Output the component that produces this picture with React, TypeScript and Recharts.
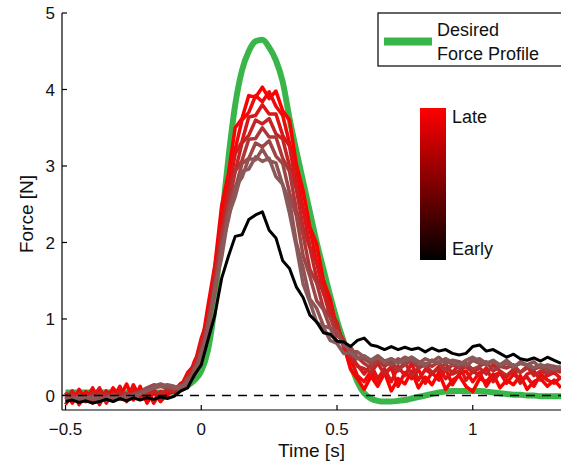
import React from 'react';
import { LineChart, Line, XAxis, YAxis, ReferenceLine, Legend, Label } from 'recharts';

const time = [
  -0.5, -0.475, -0.45, -0.425, -0.4, -0.375, -0.35, -0.325, -0.3, -0.275,
  -0.25, -0.225, -0.2, -0.175, -0.15, -0.125, -0.1, -0.075, -0.05, -0.025,
  0, 0.025, 0.05, 0.075, 0.1, 0.125, 0.15, 0.175, 0.2, 0.225,
  0.25, 0.275, 0.3, 0.325, 0.35, 0.375, 0.4, 0.425, 0.45, 0.475,
  0.5, 0.525, 0.55, 0.575, 0.6, 0.625, 0.65, 0.675, 0.7, 0.725,
  0.75, 0.775, 0.8, 0.825, 0.85, 0.875, 0.9, 0.925, 0.95, 0.975,
  1, 1.025, 1.05, 1.075, 1.1, 1.125, 1.15, 1.175, 1.2, 1.225,
  1.25, 1.275, 1.3, 1.325,
];

const desired = [
  0.04, 0.04, 0.04, 0.04, 0.04, 0.04, 0.04, 0.04, 0.04, 0.04, 0.04, 0.04, 0.04, 0.04, 0.04, 0.04,
  0.05, 0.08, 0.13, 0.2, 0.32, 0.6, 1.2, 2.25, 3.1, 3.8,
  4.25, 4.5, 4.63, 4.65, 4.55, 4.38, 4.1, 3.62, 3.2, 2.8,
  2.4, 2.0, 1.65, 1.3, 0.98, 0.7, 0.42, 0.18, 0.03, -0.04,
  -0.07, -0.08, -0.08, -0.07, -0.06, -0.04, -0.02, 0.0, 0.02, 0.04,
  0.05, 0.06, 0.06, 0.06, 0.06, 0.06, 0.05, 0.04, 0.03, 0.02,
  0.01, 0.01, 0.0, 0.0, -0.01, -0.01, -0.01, -0.01,
];

const early = [
  -0.08, -0.06, -0.09, -0.07, -0.1, -0.08, -0.05, -0.08, -0.04, -0.07,
  -0.03, -0.06, -0.03, -0.05, -0.02, -0.04, -0.01,
  0.06, 0.1, 0.27, 0.4, 0.73, 1.05, 1.53, 1.82, 2.08, 2.1, 2.3,
  2.36, 2.4, 2.16, 2.06,
  1.76, 1.66, 1.42, 1.28, 1.05, 0.96, 0.82, 0.8, 0.71, 0.7, 0.64, 0.72,
  0.75, 0.66, 0.64, 0.6, 0.64, 0.6, 0.63, 0.6, 0.62, 0.57,
  0.62, 0.58, 0.6, 0.55, 0.53, 0.55, 0.64, 0.66, 0.58, 0.6,
  0.55, 0.5, 0.54, 0.48, 0.46, 0.49, 0.45, 0.5, 0.46, 0.42,
];

const trial1 = [
  -0.12, 0.02, -0.08, 0.05, -0.1, 0.08, -0.05, 0.1, -0.02, 0.15, -0.06, 0.12, -0.1, 0.04, -0.08, 0.02, 0.06,
  0.16, 0.2, 0.45, 0.62, 1.18, 1.7, 2.48, 2.9, 3.5, 3.62, 3.92,
  3.9, 4.03, 3.88, 3.98,
  3.72, 3.6, 3.02, 2.68, 2.2, 1.98, 1.5, 1.26, 0.86, 0.66, 0.34, 0.22,
  0.08, 0.25, 0.12, 0.3, 0.06, 0.22, 0.15, 0.32, 0.1, 0.24,
  0.14, 0.3, 0.08, 0.2, 0.26, 0.12, 0.05, 0.22, 0.18, 0.28,
  0.1, 0.2, 0.14, 0.26, 0.08, 0.18, 0.22, 0.12, 0.2, 0.1,
];

const trial2 = [
  0.04, -0.1, 0.08, -0.06, 0.1, -0.12, 0.06, -0.04, 0.12, -0.08, 0.14, -0.03, 0.08, -0.1, 0.05, 0.0, 0.1,
  0.12, 0.3, 0.4, 0.75, 1.0, 1.68, 2.25, 2.86, 3.22, 3.6, 3.7,
  3.92, 3.84, 3.97, 3.78,
  3.66, 3.3, 2.98, 2.44, 2.18, 1.74, 1.5, 1.1, 0.95, 0.62, 0.48, 0.26,
  0.18, 0.32, 0.15, 0.28, 0.36, 0.12, 0.3, 0.22, 0.34, 0.16,
  0.3, 0.2, 0.35, 0.14, 0.28, 0.32, 0.18, 0.3, 0.12, 0.26,
  0.3, 0.16, 0.28, 0.2, 0.24, 0.12, 0.28, 0.2, 0.16, 0.24,
];

const trial3 = [
  -0.05, 0.06, -0.12, 0.02, -0.04, 0.1, -0.1, 0.04, 0.0, -0.06, 0.08, 0.02, -0.04, 0.08, -0.02, 0.06, 0.04,
  0.13, 0.17, 0.4, 0.56, 1.05, 1.5, 2.25, 2.64, 3.16, 3.32, 3.64,
  3.66, 3.8, 3.68, 3.68,
  3.4, 3.26, 2.74, 2.44, 1.95, 1.74, 1.33, 1.18, 0.86, 0.72, 0.46, 0.4,
  0.28, 0.4, 0.22, 0.35, 0.18, 0.38, 0.26, 0.42, 0.2, 0.34,
  0.28, 0.38, 0.22, 0.3, 0.4, 0.2, 0.32, 0.26, 0.36, 0.18,
  0.3, 0.24, 0.34, 0.16, 0.28, 0.32, 0.2, 0.26, 0.3, 0.22,
];

const trial4 = [
  0.02, -0.06, 0.0, -0.08, 0.04, -0.02, 0.03, -0.07, 0.05, 0.0, -0.04, 0.06, 0.0, 0.05, 0.02, 0.08, 0.06,
  0.09, 0.25, 0.35, 0.67, 0.96, 1.57, 2.08, 2.66, 2.93, 3.3, 3.4,
  3.6, 3.55, 3.62, 3.42,
  3.35, 3.0, 2.7, 2.2, 1.93, 1.53, 1.35, 1.03, 0.92, 0.66, 0.58, 0.38,
  0.35, 0.3, 0.42, 0.28, 0.38, 0.32, 0.44, 0.26, 0.36, 0.4,
  0.3, 0.34, 0.42, 0.28, 0.32, 0.38, 0.3, 0.36, 0.28, 0.4,
  0.32, 0.26, 0.34, 0.3, 0.38, 0.26, 0.32, 0.28, 0.34, 0.3,
];

const trial5 = [
  -0.04, 0.0, -0.06, -0.02, -0.05, 0.02, -0.04, 0.0, -0.03, 0.03, -0.02, 0.04, 0.06, 0.1, 0.12, 0.1, 0.08,
  0.13, 0.15, 0.38, 0.54, 0.99, 1.4, 2.1, 2.47, 2.93, 3.07, 3.35,
  3.36, 3.5, 3.38, 3.38,
  3.1, 2.93, 2.43, 2.1, 1.65, 1.47, 1.14, 1.02, 0.78, 0.72, 0.52, 0.5,
  0.42, 0.36, 0.46, 0.38, 0.44, 0.34, 0.4, 0.46, 0.36, 0.42,
  0.38, 0.44, 0.32, 0.4, 0.36, 0.42, 0.34, 0.38, 0.44, 0.32,
  0.38, 0.36, 0.4, 0.3, 0.36, 0.34, 0.38, 0.3, 0.34, 0.32,
];

const trial6 = [
  -0.02, -0.05, 0.0, -0.04, -0.01, -0.06, -0.02, 0.01, -0.03, 0.0, 0.02, 0.05, 0.1, 0.14, 0.12, 0.1, 0.1,
  0.09, 0.23, 0.29, 0.59, 0.86, 1.45, 1.9, 2.47, 2.7, 3.03, 3.1,
  3.3, 3.25, 3.33, 3.13,
  3.03, 2.65, 2.35, 1.83, 1.56, 1.24, 1.12, 0.88, 0.84, 0.64, 0.63, 0.5,
  0.48, 0.42, 0.5, 0.44, 0.4, 0.48, 0.42, 0.5, 0.44, 0.38,
  0.46, 0.42, 0.48, 0.4, 0.44, 0.38, 0.46, 0.42, 0.4, 0.45,
  0.38, 0.42, 0.36, 0.44, 0.4, 0.36, 0.4, 0.34, 0.38, 0.35,
];

const trial7 = [
  -0.06, -0.03, -0.07, -0.02, -0.05, -0.03, -0.06, -0.01, -0.04, -0.02, 0.0, 0.03, 0.08, 0.12, 0.15, 0.12, 0.09,
  0.13, 0.13, 0.34, 0.48, 0.92, 1.33, 1.95, 2.3, 2.73, 2.85, 3.1,
  3.08, 3.22, 3.07, 3.04,
  2.75, 2.55, 2.0, 1.67, 1.26, 1.14, 0.91, 0.88, 0.7, 0.69, 0.57, 0.57,
  0.5, 0.46, 0.52, 0.45, 0.48, 0.44, 0.5, 0.46, 0.42, 0.48,
  0.44, 0.5, 0.42, 0.46, 0.44, 0.4, 0.46, 0.48, 0.42, 0.44,
  0.4, 0.46, 0.38, 0.42, 0.4, 0.44, 0.36, 0.4, 0.38, 0.36,
];

const trial8 = [
  -0.03, -0.06, -0.02, -0.05, -0.03, -0.07, -0.04, -0.02, -0.05, -0.01, -0.03, 0.02, 0.06, 0.1, 0.12, 0.14, 0.12,
  0.07, 0.18, 0.25, 0.54, 0.81, 1.4, 1.8, 2.35, 2.6, 2.93, 2.96,
  3.12, 3.06, 3.1, 2.86,
  2.76, 2.38, 1.95, 1.46, 1.22, 0.96, 0.89, 0.72, 0.68, 0.55, 0.56, 0.48,
  0.52, 0.46, 0.5, 0.44, 0.48, 0.42, 0.46, 0.5, 0.44, 0.4,
  0.46, 0.42, 0.48, 0.44, 0.4, 0.46, 0.5, 0.44, 0.42, 0.46,
  0.4, 0.44, 0.38, 0.42, 0.4, 0.36, 0.4, 0.38, 0.34, 0.38,
];

// late (red) -> early (brownish)
const trialSeries = [
  { key: 't1', values: trial1, color: '#FF0000' },
  { key: 't2', values: trial2, color: '#EE0A0A' },
  { key: 't3', values: trial3, color: '#DA1616' },
  { key: 't4', values: trial4, color: '#C42424' },
  { key: 't5', values: trial5, color: '#AE3636' },
  { key: 't6', values: trial6, color: '#9C4646' },
  { key: 't7', values: trial7, color: '#905252' },
  { key: 't8', values: trial8, color: '#8A5A5A' },
];

const xTicks = [-0.5, 0, 0.5, 1];
const yTicks = [0, 1, 2, 3, 4, 5];
const xDomain = [-0.513, 1.325];
const yDomain = [-0.19, 5];

const data = time.map((t, i) => {
  const row: Record<string, number> = { t, desired: desired[i], early: early[i] };
  trialSeries.forEach((s) => {
    row[s.key] = s.values[i];
  });
  return row;
});

const FONT = '"Liberation Sans", Arial, Helvetica, sans-serif';
const axisStroke = { stroke: '#000', strokeWidth: 1.2 };
const fmt = (v: number) => (v < 0 ? '\u2212' + String(Math.abs(v)) : String(v));
const tickStyle = { fontSize: 17, fill: '#111', fontFamily: FONT };
const emptyTick = () => <g />;

const Overlay = () => (
  <svg width={561} height={464} style={{ position: 'absolute', left: 0, top: 0, pointerEvents: 'none' }}>
    <defs>
      <linearGradient id="cbar" x1="0" y1="0" x2="0" y2="1">
        <stop offset="0" stopColor="#FF0000" />
        <stop offset="1" stopColor="#000000" />
      </linearGradient>
    </defs>
    <rect x={378} y={13} width={200} height={53} fill="#fff" stroke="#000" strokeWidth={1.2} />
    <line x1={384} x2={432} y1={41.5} y2={41.5} stroke="#39B54A" strokeWidth={8} />
    <text x={437} y={36} fontSize={18} fontFamily={FONT} fill="#111">Desired</text>
    <text x={437} y={59.5} fontSize={18} fontFamily={FONT} fill="#111">Force Profile</text>
    <rect x={420} y={108} width={26} height={152} fill="url(#cbar)" />
    <text x={452} y={123} fontSize={18} fontFamily={FONT} fill="#111">Late</text>
    <text x={452} y={254.5} fontSize={18} fontFamily={FONT} fill="#111">Early</text>
  </svg>
);

export default function App() {
  return (
    <div style={{ position: 'absolute', left: 0, top: 0, width: 561, height: 464, overflow: 'hidden', background: '#fff' }}>
      <LineChart width={561} height={464} data={data} margin={{ top: 13, right: 0, bottom: 0, left: 0 }}>
        <XAxis
          dataKey="t"
          type="number"
          domain={xDomain}
          ticks={xTicks}
          allowDataOverflow
          interval={0}
          height={54}
          tickSize={-5}
          tickMargin={18}
          tickFormatter={fmt}
          tick={tickStyle}
          axisLine={axisStroke}
          tickLine={axisStroke}
        >
          <Label
            value="Time [s]"
            position="insideBottom"
            offset={7}
            style={{ fontSize: 19, fill: '#111', fontFamily: FONT }}
          />
        </XAxis>
        <XAxis
          xAxisId="top"
          orientation="top"
          dataKey="t"
          type="number"
          domain={xDomain}
          ticks={xTicks}
          allowDataOverflow
          interval={0}
          height={0}
          tickSize={-5}
          tick={emptyTick}
          axisLine={axisStroke}
          tickLine={axisStroke}
        />
        <YAxis
          type="number"
          domain={yDomain}
          ticks={yTicks}
          allowDataOverflow
          interval={0}
          width={62}
          tickSize={-5}
          tickMargin={12}
          tick={tickStyle}
          axisLine={axisStroke}
          tickLine={axisStroke}
          label={
            <Label
              content={() => (
                <text
                  x={33}
                  y={214}
                  transform="rotate(-90 33 214)"
                  textAnchor="middle"
                  fontSize={19}
                  fontFamily={FONT}
                  fill="#111"
                >
                  Force [N]
                </text>
              )}
            />
          }
        />
        <YAxis
          yAxisId="right"
          orientation="right"
          type="number"
          domain={yDomain}
          ticks={yTicks}
          allowDataOverflow
          interval={0}
          width={0}
          tickSize={-5}
          tick={emptyTick}
          axisLine={axisStroke}
          tickLine={axisStroke}
        />
        <Line
          dataKey="desired"
          type="monotone"
          stroke="#39B54A"
          strokeWidth={6}
          dot={false}
          isAnimationActive={false}
        />
        {trialSeries.map((s) => (
          <Line
            key={s.key}
            dataKey={s.key}
            type="linear"
            stroke={s.color}
            strokeWidth={3.5}
            strokeLinejoin="round"
            dot={false}
            isAnimationActive={false}
          />
        ))}
        <Line
          dataKey="early"
          type="linear"
          stroke="#000"
          strokeWidth={3}
          strokeLinejoin="round"
          dot={false}
          isAnimationActive={false}
        />
        <ReferenceLine y={0} stroke="#000" strokeWidth={1.4} strokeDasharray="9 7" />
        <Legend
          layout="horizontal"
          verticalAlign="middle"
          align="center"
          content={() => <Overlay />}
          wrapperStyle={{ position: 'absolute', left: 0, top: 0, width: 561, height: 464, pointerEvents: 'none' }}
        />
      </LineChart>
    </div>
  );
}
